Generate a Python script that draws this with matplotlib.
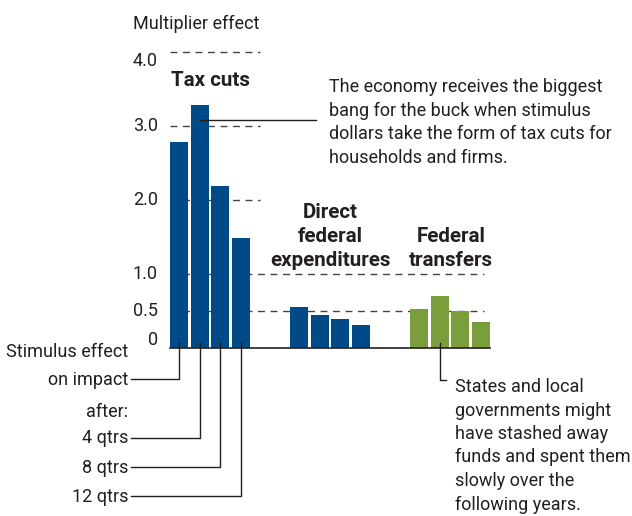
import matplotlib
matplotlib.use('Agg')
from matplotlib import pyplot as plt

# data
groups = ['Tax cuts', 'Direct\nfederal\nexpenditures', 'Federal\ntransfers']
periods = ['on impact', '4 qtrs', '8 qtrs', '12 qtrs']
tax_cuts = [2.78, 3.28, 2.19, 1.49]
direct_spending = [0.55, 0.45, 0.39, 0.31]
transfers = [0.53, 0.70, 0.50, 0.35]
tick_values = [0, 0.5, 1.0, 2.0, 3.0, 4.0]
tick_labels = ['0', '0.5', '1.0', '2.0', '3.0', '4.0']
tax_note = ['The economy receives the biggest', 'bang for the buck when stimulus',
            'dollars take the form of tax cuts for', 'households and firms.']
transfer_note = ['States and local', 'governments might', 'have stashed away',
                 'funds and spent them', 'slowly over the', 'following years.']

BLUE = '#004a87'
GREEN = '#7a9e3c'
INK = '#231f20'
W, H = 632, 516
ZERO, SCALE = 348, 74  # pixel row of 0 and pixels per unit


def v(py):
    # pixel row -> data value
    return (ZERO - py) / SCALE


def lines(x, first, text, step, **kw):
    # one text line per call so the spacing is exact
    for k, t in enumerate(text):
        ax.text(x, v(first + k * step), t, va='baseline', color=INK, **kw)


plt.rcParams['font.family'] = ['Roboto', 'DejaVu Sans']
fig = plt.figure(figsize=(W / 100, H / 100), dpi=100)
ax = fig.add_axes([0, 0, 1, 1])
ax.set_xlim(0, W)
ax.set_ylim(v(H), v(0))
ax.axis('off')

FS = 13
BFS = 14.8

# grid lines, behind the bars
for t in [2.0, 3.0, 4.0]:
    ax.plot([170, 260], [t, t], color='#444444', lw=1, dashes=(5, 4), zorder=1)
for t in [0.5, 1.0]:
    ax.plot([170, 484], [t, t], color='#444444', lw=1, dashes=(5, 4), zorder=1)

# bars
step, width, gap = 20.5, 18, 120
centers = []
for g, (vals, col) in enumerate([(tax_cuts, BLUE), (direct_spending, BLUE), (transfers, GREEN)]):
    xs = [170 + g * gap + i * step for i in range(len(vals))]
    ax.bar(xs, vals, width=width, align='edge', color=col, zorder=2)
    centers.append([x + width / 2 for x in xs])

# baseline
ax.plot([170, 490], [0, 0], color=INK, lw=1.2, zorder=3)

# tick labels
nudge = {'4.0': 9, '0': -8}
for t, lab in zip(tick_values, tick_labels):
    py = ZERO - t * SCALE + nudge.get(lab, 0)
    ax.text(158, v(py), lab, ha='right', va='center', fontsize=FS, color=INK)

ax.text(133, v(29), 'Multiplier effect', ha='left', va='baseline', fontsize=FS, color=INK)

# group titles
lines(210, 86, groups[0].split('\n'), 24, ha='center', fontsize=BFS, fontweight='bold')
lines(330, 218, groups[1].split('\n'), 24, ha='center', fontsize=BFS, fontweight='bold')
lines(451, 242, groups[2].split('\n'), 24, ha='center', fontsize=BFS, fontweight='bold')

# tax cuts note
ax.plot([centers[0][1], 316], [v(120), v(120)], color=INK, lw=1, zorder=3)
lines(329, 92, tax_note, 23.7, ha='left', fontsize=FS)

# transfers note
cx = centers[2][1]
ax.plot([cx, cx, cx + 6], [v(343), v(380), v(380)], color=INK, lw=1, zorder=3)
lines(455, 392, transfer_note, 23.5, ha='left', fontsize=FS)

# left legend for the bar order
ax.text(128, v(357), 'Stimulus effect', ha='right', va='baseline', fontsize=FS, color=INK)
ax.text(128, v(417), 'after:', ha='right', va='baseline', fontsize=FS, color=INK)
rows = [379, 438, 467, 496]
bases = [385, 443, 473, 502]
for cx, py, pb, lab in zip(centers[0], rows, bases, periods):
    ax.text(128, v(pb), lab, ha='right', va='baseline', fontsize=FS, color=INK)
    ax.plot([131, cx, cx], [v(py), v(py), v(343)], color=INK, lw=1, zorder=3)

fig.savefig('out.png', dpi=100)
